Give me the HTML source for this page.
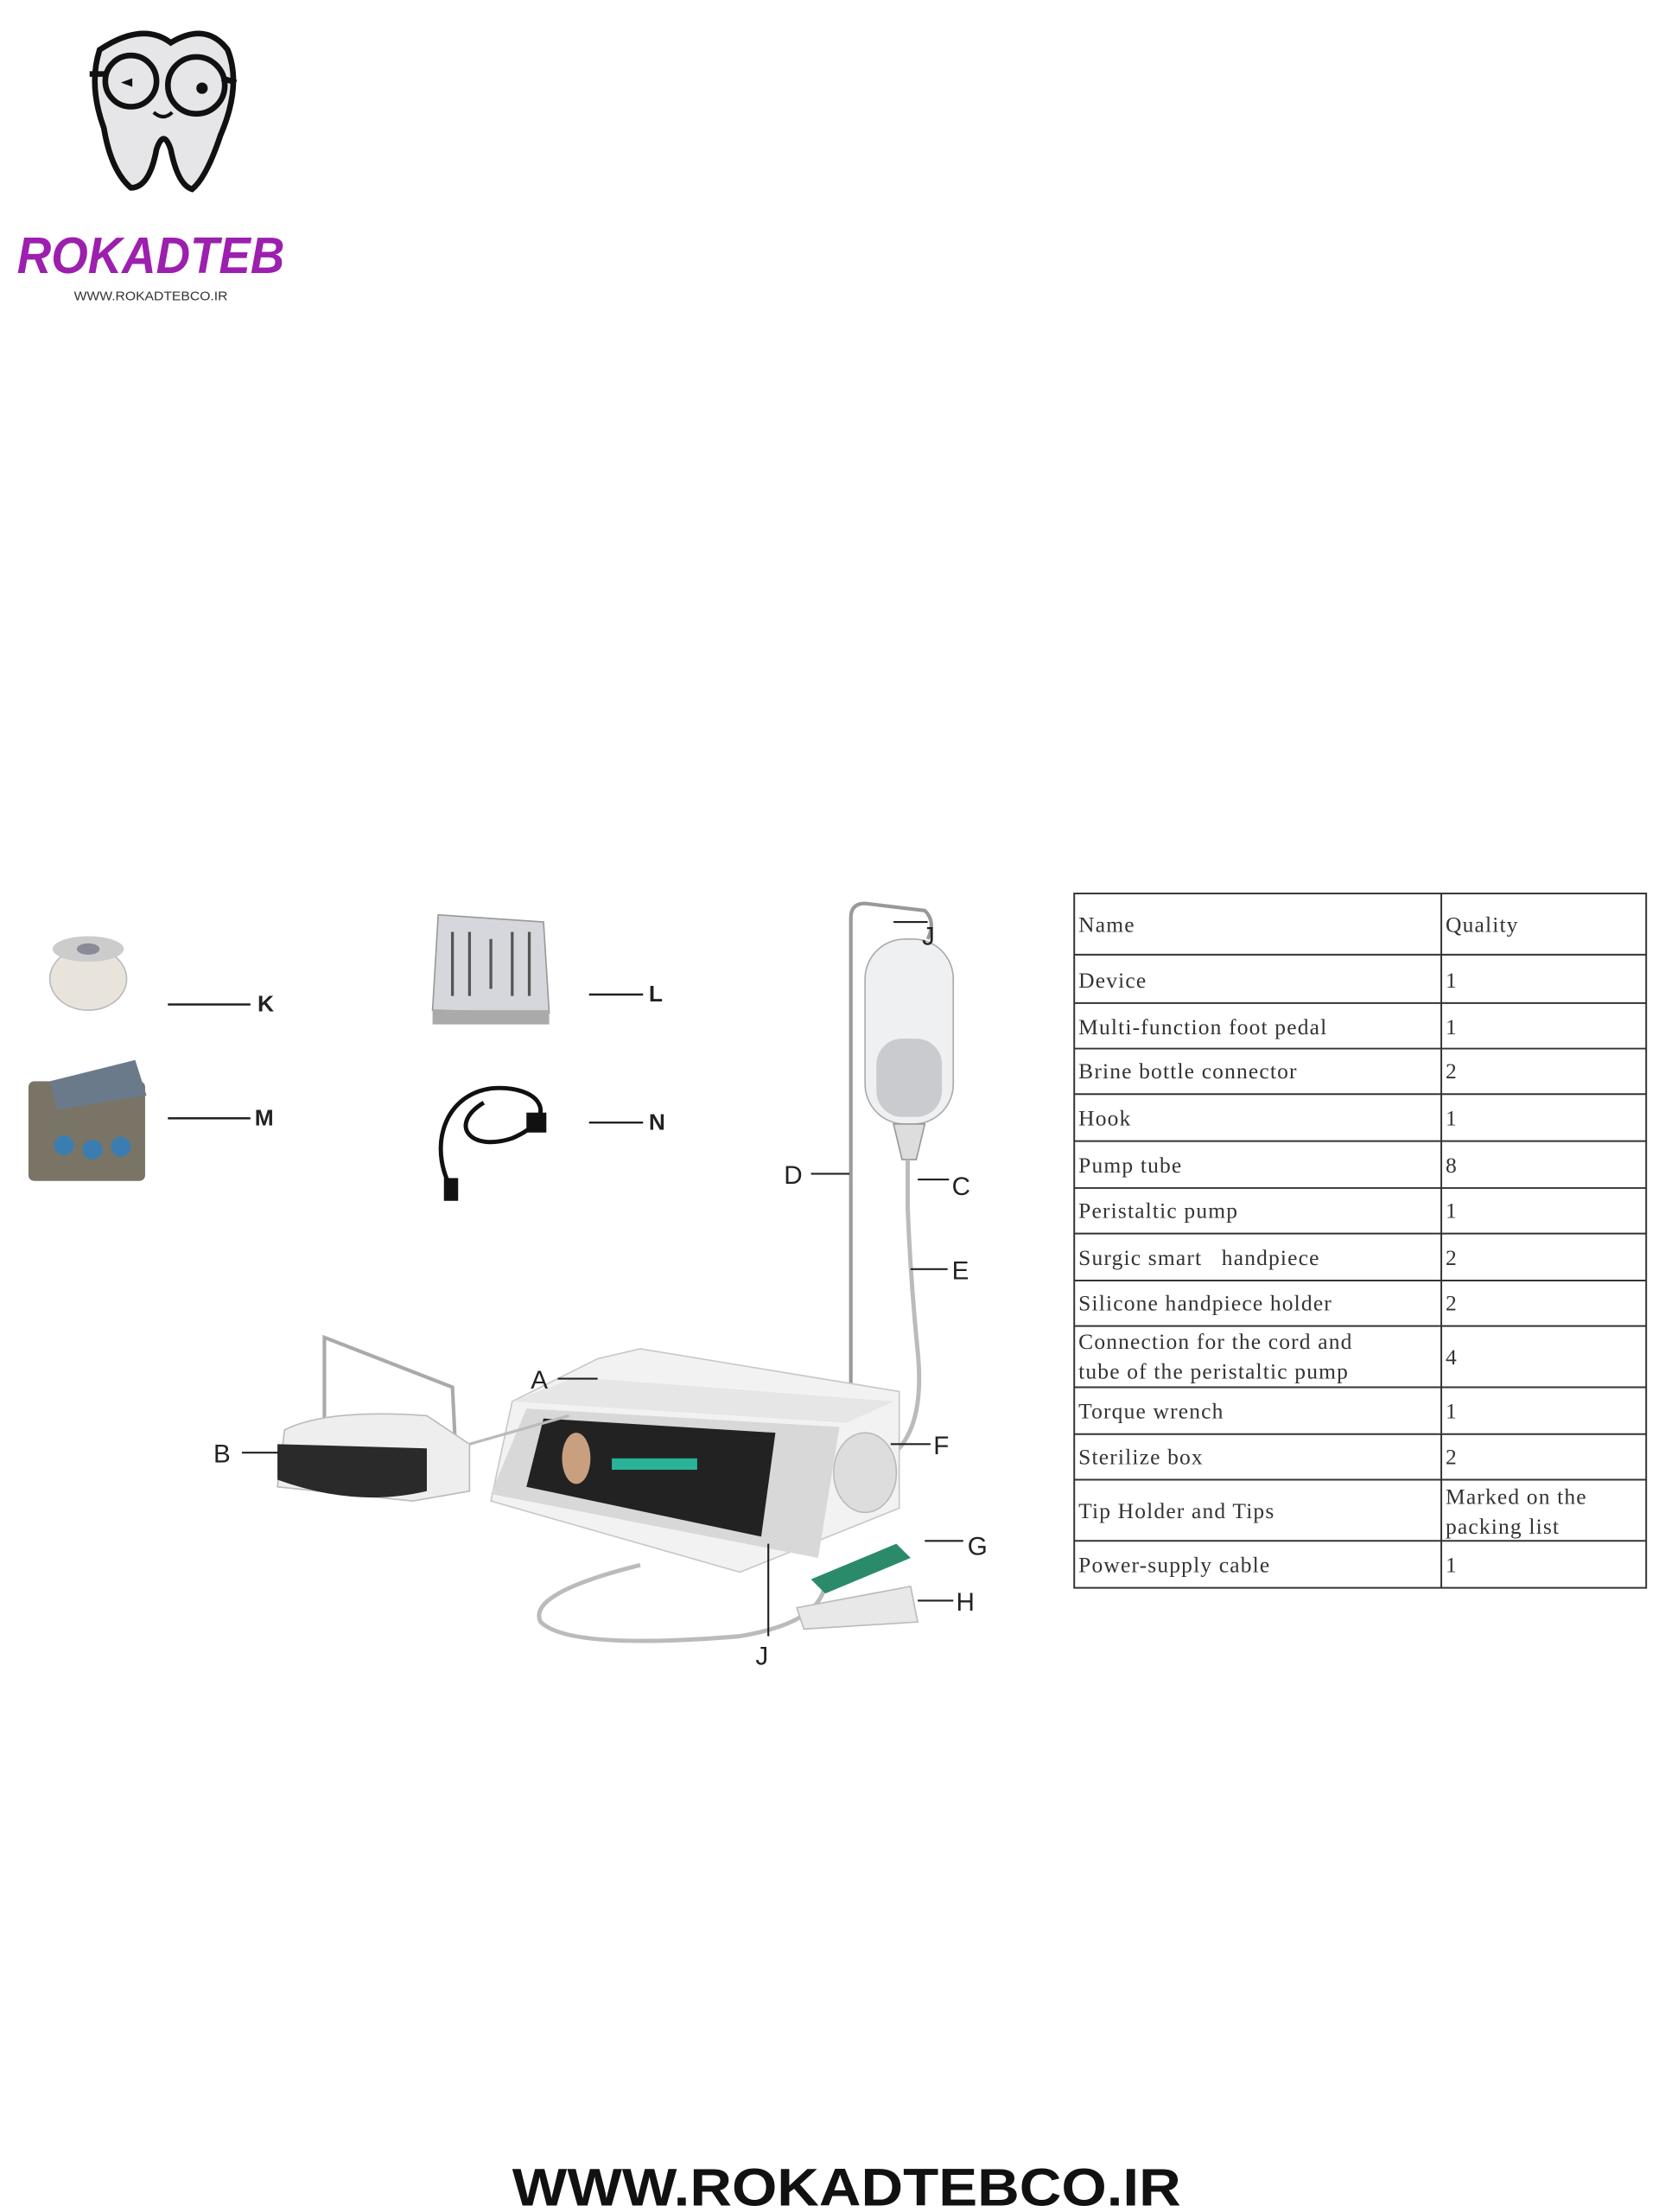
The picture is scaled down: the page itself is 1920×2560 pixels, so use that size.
<!DOCTYPE html>
<html><head><meta charset="utf-8"><style>
html,body{margin:0;padding:0;background:#fff}
svg{display:block}
</style></head><body>
<svg width="1920" height="2560" viewBox="0 0 1166 1554.7" preserveAspectRatio="none" xmlns="http://www.w3.org/2000/svg" font-family="Liberation Sans, sans-serif">
<rect width="1166" height="1555" fill="#fff"/>
<!-- logo tooth -->
<path d="M70 35 Q100 15 120 30 Q145 15 160 35 Q170 60 155 95 Q145 125 135 133 Q125 130 120 105 Q115 90 110 105 Q105 132 92 132 Q78 120 73 90 Q62 60 70 35Z" fill="#e6e6e8" stroke="#111" stroke-width="4"/>
<circle cx="92" cy="57" r="18" fill="none" stroke="#111" stroke-width="4"/>
<circle cx="138" cy="60" r="20" fill="none" stroke="#111" stroke-width="4"/>
<line x1="63" y1="52" x2="74" y2="52" stroke="#111" stroke-width="4"/>
<line x1="156" y1="55" x2="166" y2="58" stroke="#111" stroke-width="4"/>
<circle cx="142" cy="62" r="4" fill="#111"/>
<path d="M143 60 l-8 3 l8 3z" fill="#111" transform="translate(-50,-5)"/>
<path d="M108 79 q7 6 13 0" fill="none" stroke="#111" stroke-width="2.5"/>
<text x="12" y="192" font-size="36" font-weight="bold" font-style="italic" fill="#9c1fae" textLength="188" lengthAdjust="spacingAndGlyphs">ROKADTEB</text>
<text x="52" y="211" font-size="9" fill="#333" textLength="108" lengthAdjust="spacingAndGlyphs">WWW.ROKADTEBCO.IR</text>

<!-- K item -->
<ellipse cx="62" cy="688" rx="27" ry="22" fill="#e8e4dc" stroke="#bbb"/>
<ellipse cx="62" cy="667" rx="25" ry="9" fill="#ccc"/>
<ellipse cx="62" cy="667" rx="8" ry="4" fill="#8a8a98"/>
<line x1="118" y1="706" x2="176" y2="706" stroke="#222" stroke-width="1.5"/>
<text x="181" y="711" font-size="16" font-weight="bold" fill="#222">K</text>
<!-- M item -->
<rect x="20" y="760" width="82" height="70" fill="#7a7466" rx="4"/>
<path d="M35 760 L95 745 L103 770 L40 780Z" fill="#6a7a8a"/>
<circle cx="45" cy="805" r="7" fill="#3b7db0"/><circle cx="65" cy="808" r="7" fill="#3b7db0"/><circle cx="85" cy="806" r="7" fill="#3b7db0"/>
<line x1="118" y1="786" x2="176" y2="786" stroke="#222" stroke-width="1.5"/>
<text x="179" y="791" font-size="16" font-weight="bold" fill="#222">M</text>
<!-- L -->
<path d="M308 643 L382 648 L386 712 L304 710Z" fill="#d6d7dc" stroke="#999"/>
<rect x="304" y="710" width="82" height="10" fill="#aaa"/>
<g stroke="#555" stroke-width="2"><line x1="318" y1="655" x2="318" y2="700"/><line x1="330" y1="655" x2="330" y2="700"/><line x1="345" y1="660" x2="345" y2="695"/><line x1="360" y1="655" x2="360" y2="700"/><line x1="372" y1="655" x2="372" y2="700"/></g>
<line x1="414" y1="699" x2="452" y2="699" stroke="#222" stroke-width="1.5"/>
<text x="456" y="704" font-size="16" font-weight="bold" fill="#222">L</text>
<!-- N -->
<path d="M320 840 C300 810 310 770 345 765 C380 762 395 785 360 800 C330 810 315 790 340 775" fill="none" stroke="#111" stroke-width="3"/>
<rect x="312" y="828" width="10" height="16" fill="#111"/>
<rect x="370" y="782" width="14" height="14" fill="#111"/>
<line x1="414" y1="789" x2="452" y2="789" stroke="#222" stroke-width="1.5"/>
<text x="456" y="794" font-size="16" font-weight="bold" fill="#222">N</text>

<!-- pole & bottle -->
<path d="M598 978 L598 645 Q598 635 608 635 L650 640 Q658 648 652 660" fill="none" stroke="#999" stroke-width="2.5"/>
<rect x="608" y="660" width="62" height="130" rx="28" fill="#eef0f2" stroke="#aaa"/>
<rect x="616" y="730" width="46" height="55" rx="18" fill="#c9cbce"/>
<path d="M628 790 L650 790 L644 815 L634 815Z" fill="#ddd" stroke="#999"/>
<path d="M638 815 L638 850 Q640 900 645 950 Q650 1000 630 1020" fill="none" stroke="#bbb" stroke-width="3"/>
<line x1="570" y1="825" x2="597" y2="825" stroke="#222" stroke-width="1.3"/>
<text x="551" y="832" font-size="18" fill="#222">D</text>
<line x1="645" y1="829" x2="667" y2="829" stroke="#222" stroke-width="1.3"/>
<text x="669" y="840" font-size="18" fill="#222">C</text>
<line x1="640" y1="892" x2="666" y2="892" stroke="#222" stroke-width="1.3"/>
<text x="669" y="899" font-size="18" fill="#222">E</text>
<line x1="628" y1="648" x2="652" y2="648" stroke="#222" stroke-width="1.3"/>
<text x="648" y="664" font-size="18" fill="#222">J</text>

<!-- device -->
<path d="M420 955 L450 948 L632 978 L632 1060 L520 1105 L345 1055 L360 985Z" fill="#f2f2f2" stroke="#c8c8c8"/>
<path d="M360 985 L405 968 L628 985 L595 1000Z" fill="#e6e6e6"/>
<path d="M370 990 L590 1003 L575 1095 L345 1050Z" fill="#d8d8d8"/>
<path d="M382 997 L545 1007 L535 1080 L370 1045Z" fill="#222"/>
<ellipse cx="405" cy="1025" rx="10" ry="18" fill="#c8a080"/>
<rect x="430" y="1025" width="60" height="8" fill="#2bb39a"/>
<ellipse cx="608" cy="1035" rx="22" ry="28" fill="#ddd" stroke="#bbb"/>
<line x1="392" y1="969" x2="420" y2="969" stroke="#222" stroke-width="1.3"/>
<text x="373" y="976" font-size="18" fill="#222">A</text>
<line x1="626" y1="1015" x2="654" y2="1015" stroke="#222" stroke-width="1.3"/>
<text x="656" y="1022" font-size="18" fill="#222">F</text>
<!-- pedal -->
<path d="M228 1000 L228 940 L318 975 L320 1015" fill="none" stroke="#aaa" stroke-width="2.5"/>
<path d="M200 1005 Q230 990 300 995 L330 1015 L330 1048 L290 1055 L195 1045Z" fill="#eee" stroke="#bbb"/>
<path d="M195 1015 L300 1018 L300 1048 Q250 1060 195 1040Z" fill="#2a2a2a"/>
<line x1="330" y1="1015" x2="400" y2="995" stroke="#bbb" stroke-width="2"/>
<line x1="170" y1="1021" x2="196" y2="1021" stroke="#222" stroke-width="1.3"/>
<text x="150" y="1028" font-size="18" fill="#222">B</text>
<!-- cable & handpiece -->
<path d="M450 1100 Q370 1120 380 1140 Q400 1160 520 1150 Q580 1140 580 1110" fill="none" stroke="#bbb" stroke-width="3"/>
<path d="M560 1130 L640 1115 L645 1140 L565 1145Z" fill="#e8e8e8" stroke="#bbb"/>
<path d="M570 1110 L630 1085 L640 1095 L580 1120Z" fill="#2a8a6a"/>
<line x1="650" y1="1083" x2="677" y2="1083" stroke="#222" stroke-width="1.3"/>
<text x="680" y="1093" font-size="18" fill="#222">G</text>
<line x1="645" y1="1125" x2="670" y2="1125" stroke="#222" stroke-width="1.3"/>
<text x="672" y="1132" font-size="18" fill="#222">H</text>
<line x1="540" y1="1085" x2="540" y2="1150" stroke="#222" stroke-width="1.3"/>
<text x="531" y="1170" font-size="18" fill="#222">J</text>

<!-- table -->
<g fill="none" stroke="#333" stroke-width="1.2">
<rect x="755" y="628" width="402" height="488"/>
<line x1="1013" y1="628" x2="1013" y2="1116"/>
<line x1="755" y1="671" x2="1157" y2="671"/><line x1="755" y1="705" x2="1157" y2="705"/>
<line x1="755" y1="737" x2="1157" y2="737"/><line x1="755" y1="769" x2="1157" y2="769"/>
<line x1="755" y1="802" x2="1157" y2="802"/><line x1="755" y1="835" x2="1157" y2="835"/>
<line x1="755" y1="867" x2="1157" y2="867"/><line x1="755" y1="900" x2="1157" y2="900"/>
<line x1="755" y1="932" x2="1157" y2="932"/><line x1="755" y1="975" x2="1157" y2="975"/>
<line x1="755" y1="1008" x2="1157" y2="1008"/><line x1="755" y1="1040" x2="1157" y2="1040"/>
<line x1="755" y1="1083" x2="1157" y2="1083"/>
</g>
<g font-family="Liberation Serif, serif" font-size="15.5" letter-spacing="0.7" fill="#333">
<text x="758" y="655">Name</text><text x="1016" y="655">Quality</text>
<text x="758" y="694">Device</text><text x="1016" y="694">1</text>
<text x="758" y="727">Multi-function foot pedal</text><text x="1016" y="727">1</text>
<text x="758" y="758">Brine bottle connector</text><text x="1016" y="758">2</text>
<text x="758" y="791">Hook</text><text x="1016" y="791">1</text>
<text x="758" y="824">Pump tube</text><text x="1016" y="824">8</text>
<text x="758" y="856">Peristaltic pump</text><text x="1016" y="856">1</text>
<text x="758" y="889" xml:space="preserve">Surgic smart   handpiece</text><text x="1016" y="889">2</text>
<text x="758" y="921">Silicone handpiece holder</text><text x="1016" y="921">2</text>
<text x="758" y="948">Connection for the cord and</text>
<text x="758" y="969">tube of the peristaltic pump</text><text x="1016" y="959">4</text>
<text x="758" y="997">Torque wrench</text><text x="1016" y="997">1</text>
<text x="758" y="1029">Sterilize box</text><text x="1016" y="1029">2</text>
<text x="758" y="1067">Tip Holder and Tips</text>
<text x="1016" y="1057">Marked on the</text><text x="1016" y="1078">packing list</text>
<text x="758" y="1105">Power-supply cable</text><text x="1016" y="1105">1</text>
</g>

<text x="595" y="1550" text-anchor="middle" font-size="37" font-weight="bold" fill="#111" textLength="470" lengthAdjust="spacingAndGlyphs">WWW.ROKADTEBCO.IR</text>
</svg>
</body></html>
